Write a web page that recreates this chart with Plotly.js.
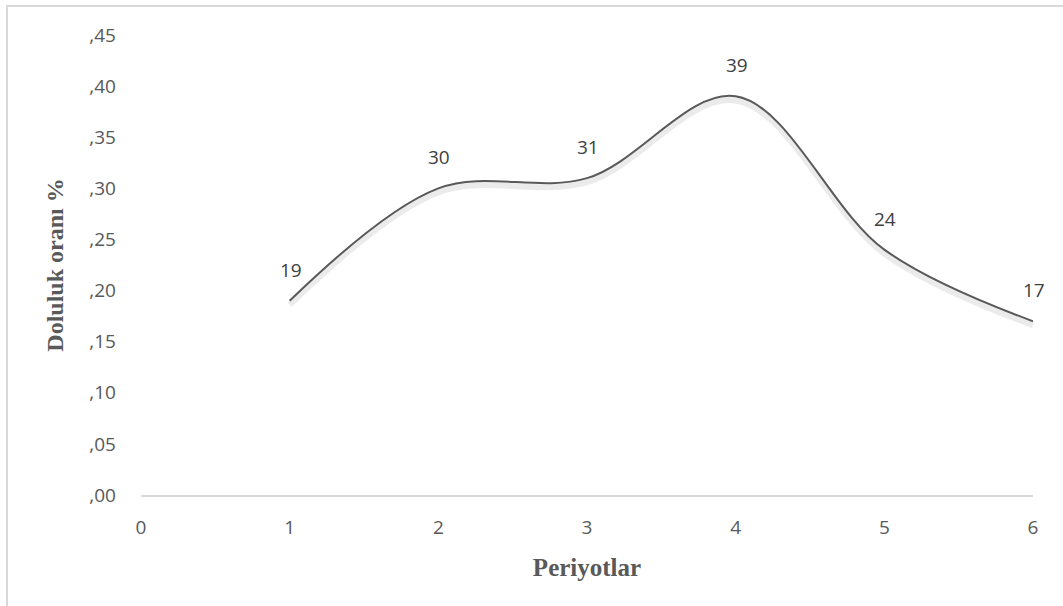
<!DOCTYPE html>
<html>
<head>
<meta charset="utf-8">
<script src="https://cdn.plot.ly/plotly-3.0.1.min.js"></script>
<style>
  html, body { margin: 0; padding: 0; background: #fff; overflow: hidden; }
  #frame { position: absolute; left: 6px; top: 5px; width: 1070px; height: 620px; border: 2px solid #d9d9d9; box-sizing: border-box; }
  #chart { position: absolute; left: 0; top: 0; width: 1063px; height: 606px; }
</style>
</head>
<body>
<div id="frame"></div>
<div id="chart"></div>
<script>
const periods = [1, 2, 3, 4, 5, 6];
const occupancy = [0.19, 0.30, 0.31, 0.39, 0.24, 0.17];
const pointLabels = ["19", "30", "31", "39", "24", "17"];
const yTickVals = [0, 0.05, 0.10, 0.15, 0.20, 0.25, 0.30, 0.35, 0.40, 0.45];
const yTickText = [",00", ",05", ",10", ",15", ",20", ",25", ",30", ",35", ",40", ",45"];
const xTickVals = [0, 1, 2, 3, 4, 5, 6];

const labelFont = { family: "Open Sans, Noto Sans, sans-serif", size: 19, color: "#404040" };
const tickFont = { family: "Open Sans, Noto Sans, sans-serif", size: 19, color: "#595959" };

const shadow = {
  x: periods, y: occupancy.map(v => v - 0.004), type: "scatter", mode: "lines",
  line: { color: "rgba(0,0,0,0.08)", width: 6, shape: "spline", smoothing: 1 },
  hoverinfo: "skip", showlegend: false
};
const trace = {
  x: periods, y: occupancy, type: "scatter", mode: "lines",
  line: { color: "#595959", width: 2, shape: "spline", smoothing: 1 },
  showlegend: false
};

const annotations = periods.map((p, i) => ({
  x: p, y: occupancy[i], xref: "x", yref: "y",
  text: pointLabels[i], showarrow: false, yshift: 31, xshift: 1,
  font: labelFont
}));

const layout = {
  width: 1063, height: 606,
  margin: { l: 141, r: 30, t: 35, b: 111 },
  paper_bgcolor: "rgba(0,0,0,0)", plot_bgcolor: "rgba(0,0,0,0)",
  showlegend: false,
  xaxis: {
    range: [0, 6], tickvals: xTickVals, ticktext: xTickVals.map(String),
    showgrid: false, zeroline: false, showline: true, linecolor: "#d9d9d9", linewidth: 2,
    ticks: "", ticklabelstandoff: 14,
    tickfont: tickFont,
    title: { text: "Periyotlar", standoff: 20, font: { family: "Liberation Serif, Times New Roman, serif", size: 25, color: "#595959", weight: "bold" } }
  },
  yaxis: {
    range: [0, 0.45], tickvals: yTickVals, ticktext: yTickText,
    showgrid: false, zeroline: false, showline: false,
    ticks: "", ticklabelstandoff: 24,
    tickfont: tickFont,
    title: { text: "Doluluk oranı %", standoff: 18, font: { family: "Liberation Serif, Times New Roman, serif", size: 24, color: "#595959", weight: "bold" } }
  },
  annotations: annotations
};

Plotly.newPlot("chart", [shadow, trace], layout, { displayModeBar: false, staticPlot: true });
</script>
</body>
</html>
